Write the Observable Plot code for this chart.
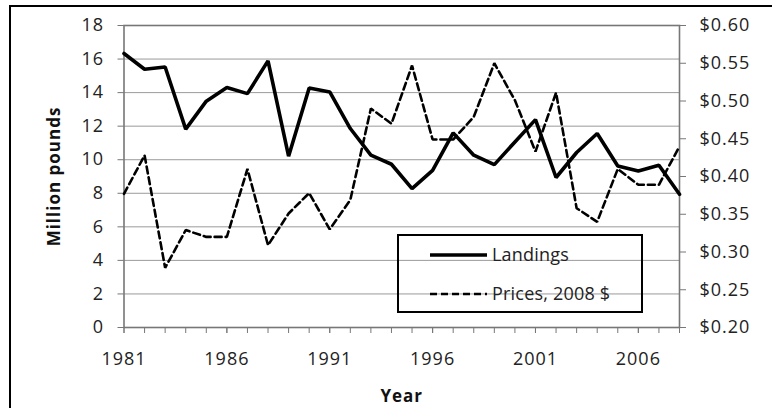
<!DOCTYPE html>
<html>
<head>
<meta charset="utf-8">
<script src="https://cdn.jsdelivr.net/npm/d3@7"></script>
<script src="https://cdn.jsdelivr.net/npm/@observablehq/plot@0.6"></script>
<style>
  html, body { margin: 0; padding: 0; background: #fff; }
  #wrap { position: relative; width: 772px; height: 408px; overflow: hidden; background: #fff; }
  #border { position: absolute; left: 9px; top: 5px; width: 900px; height: 600px; border-left: 2px solid #000; border-top: 2px solid #000; }
  #chart { position: absolute; left: 0; top: 0; }
  #legend { position: absolute; left: 397px; top: 234px; width: 246px; height: 79px; box-sizing: border-box; border: 2px solid #000; }
  #legend svg { position: absolute; left: 0; top: 0; overflow: visible; }
  #legend text { font-family: "Open Sans", sans-serif; font-size: 18px; fill: #222; letter-spacing: 0.2px; }
</style>
</head>
<body>
<div id="wrap">
  <div id="border"></div>
  <div id="chart"></div>
  <div id="legend"></div>
</div>
<script>
const years = [1981,1982,1983,1984,1985,1986,1987,1988,1989,1990,1991,1992,1993,1994,1995,1996,1997,1998,1999,2000,2001,2002,2003,2004,2005,2006,2007,2008];
const landings = [16.33,15.39,15.53,11.82,13.49,14.30,13.94,15.89,10.21,14.28,14.04,11.86,10.27,9.73,8.28,9.37,11.60,10.27,9.71,11.06,12.39,8.94,10.43,11.56,9.63,9.33,9.67,7.94];
const prices = [0.377,0.428,0.279,0.329,0.320,0.320,0.410,0.309,0.351,0.378,0.330,0.369,0.490,0.470,0.547,0.449,0.449,0.479,0.550,0.501,0.433,0.511,0.358,0.340,0.410,0.389,0.389,0.440];
const leftTicks = [0,2,4,6,8,10,12,14,16,18];
const rightTicks = [0.20,0.25,0.30,0.35,0.40,0.45,0.50,0.55,0.60];
const yearLabels = [1981,1986,1991,1996,2001,2006];
const seriesNames = ["Landings", "Prices, 2008 $"];
const yLabel = "Million pounds";
const xLabel = "Year";

// map the right-hand (price) axis onto the left-hand scale
const pMin = 0.20, pMax = 0.60, lMax = 18;
const toLeft = p => (p - pMin) / (pMax - pMin) * lMax;

const landRows = years.map((y, i) => ({year: y, v: landings[i]}));
const priceRows = years.map((y, i) => ({year: y, v: toLeft(prices[i])}));

const chart = Plot.plot({
  width: 772,
  height: 408,
  marginLeft: 123.5,
  marginRight: 93,
  marginTop: 25,
  marginBottom: 81,
  style: {fontFamily: "Open Sans, sans-serif", fontSize: "18px", color: "#222", background: "transparent", letterSpacing: "1px"},
  x: {domain: [1981, 2008]},
  y: {domain: [0, 18]},
  marks: [
    Plot.ruleY(leftTicks, {stroke: "#9a9a9a", strokeWidth: 1}),
    Plot.frame({stroke: "#777", strokeWidth: 1.6}),
    Plot.axisY({ticks: leftTicks, tickSize: 6, tickPadding: 14, stroke: "#777", label: null, tickFormat: d => String(d)}),
    Plot.axisY({anchor: "right", ticks: rightTicks.map(toLeft), tickSize: 6, tickPadding: 14, stroke: "#777", label: null,
      tickFormat: d => "$" + (pMin + d / lMax * (pMax - pMin)).toFixed(2)}),
    Plot.axisX({ticks: years, tickSize: 6, stroke: "#777", tickFormat: () => "", label: null}),
    Plot.axisX({ticks: yearLabels, tickSize: 6, tickPadding: 19, stroke: "#777", tickFormat: d => String(d), label: null}),
    Plot.line(priceRows, {x: "year", y: "v", stroke: "#000", strokeWidth: 2.6, strokeDasharray: "7,4", strokeLinejoin: "miter"}),
    Plot.line(landRows, {x: "year", y: "v", stroke: "#000", strokeWidth: 3.6, strokeLinejoin: "miter"}),
    Plot.text([yLabel], {frameAnchor: "left", dx: -69, rotate: -90, textAnchor: "middle", lineAnchor: "middle", fontWeight: "bold", fontSize: 17, fill: "#111", text: d => d, style: "letter-spacing:0.3px"}),
    Plot.text([xLabel], {frameAnchor: "bottom", dy: 69, textAnchor: "middle", lineAnchor: "middle", fontWeight: "bold", fontSize: 17, fill: "#111", text: d => d})
  ]
});
document.getElementById("chart").appendChild(chart);

// legend
const ns = "http://www.w3.org/2000/svg";
const lg = document.getElementById("legend");
const svg = document.createElementNS(ns, "svg");
svg.setAttribute("width", 246); svg.setAttribute("height", 79);
const rowsY = [19, 58];
seriesNames.forEach((name, i) => {
  const ln = document.createElementNS(ns, "line");
  ln.setAttribute("x1", 31); ln.setAttribute("x2", 88);
  ln.setAttribute("y1", rowsY[i]); ln.setAttribute("y2", rowsY[i]);
  ln.setAttribute("stroke", "#000");
  ln.setAttribute("stroke-width", i === 0 ? 3.6 : 2.6);
  if (i === 1) ln.setAttribute("stroke-dasharray", "7,4");
  svg.appendChild(ln);
  const t = document.createElementNS(ns, "text");
  t.setAttribute("x", 93); t.setAttribute("y", rowsY[i] + 6);
  t.textContent = name;
  svg.appendChild(t);
});
lg.appendChild(svg);
</script>
</body>
</html>
